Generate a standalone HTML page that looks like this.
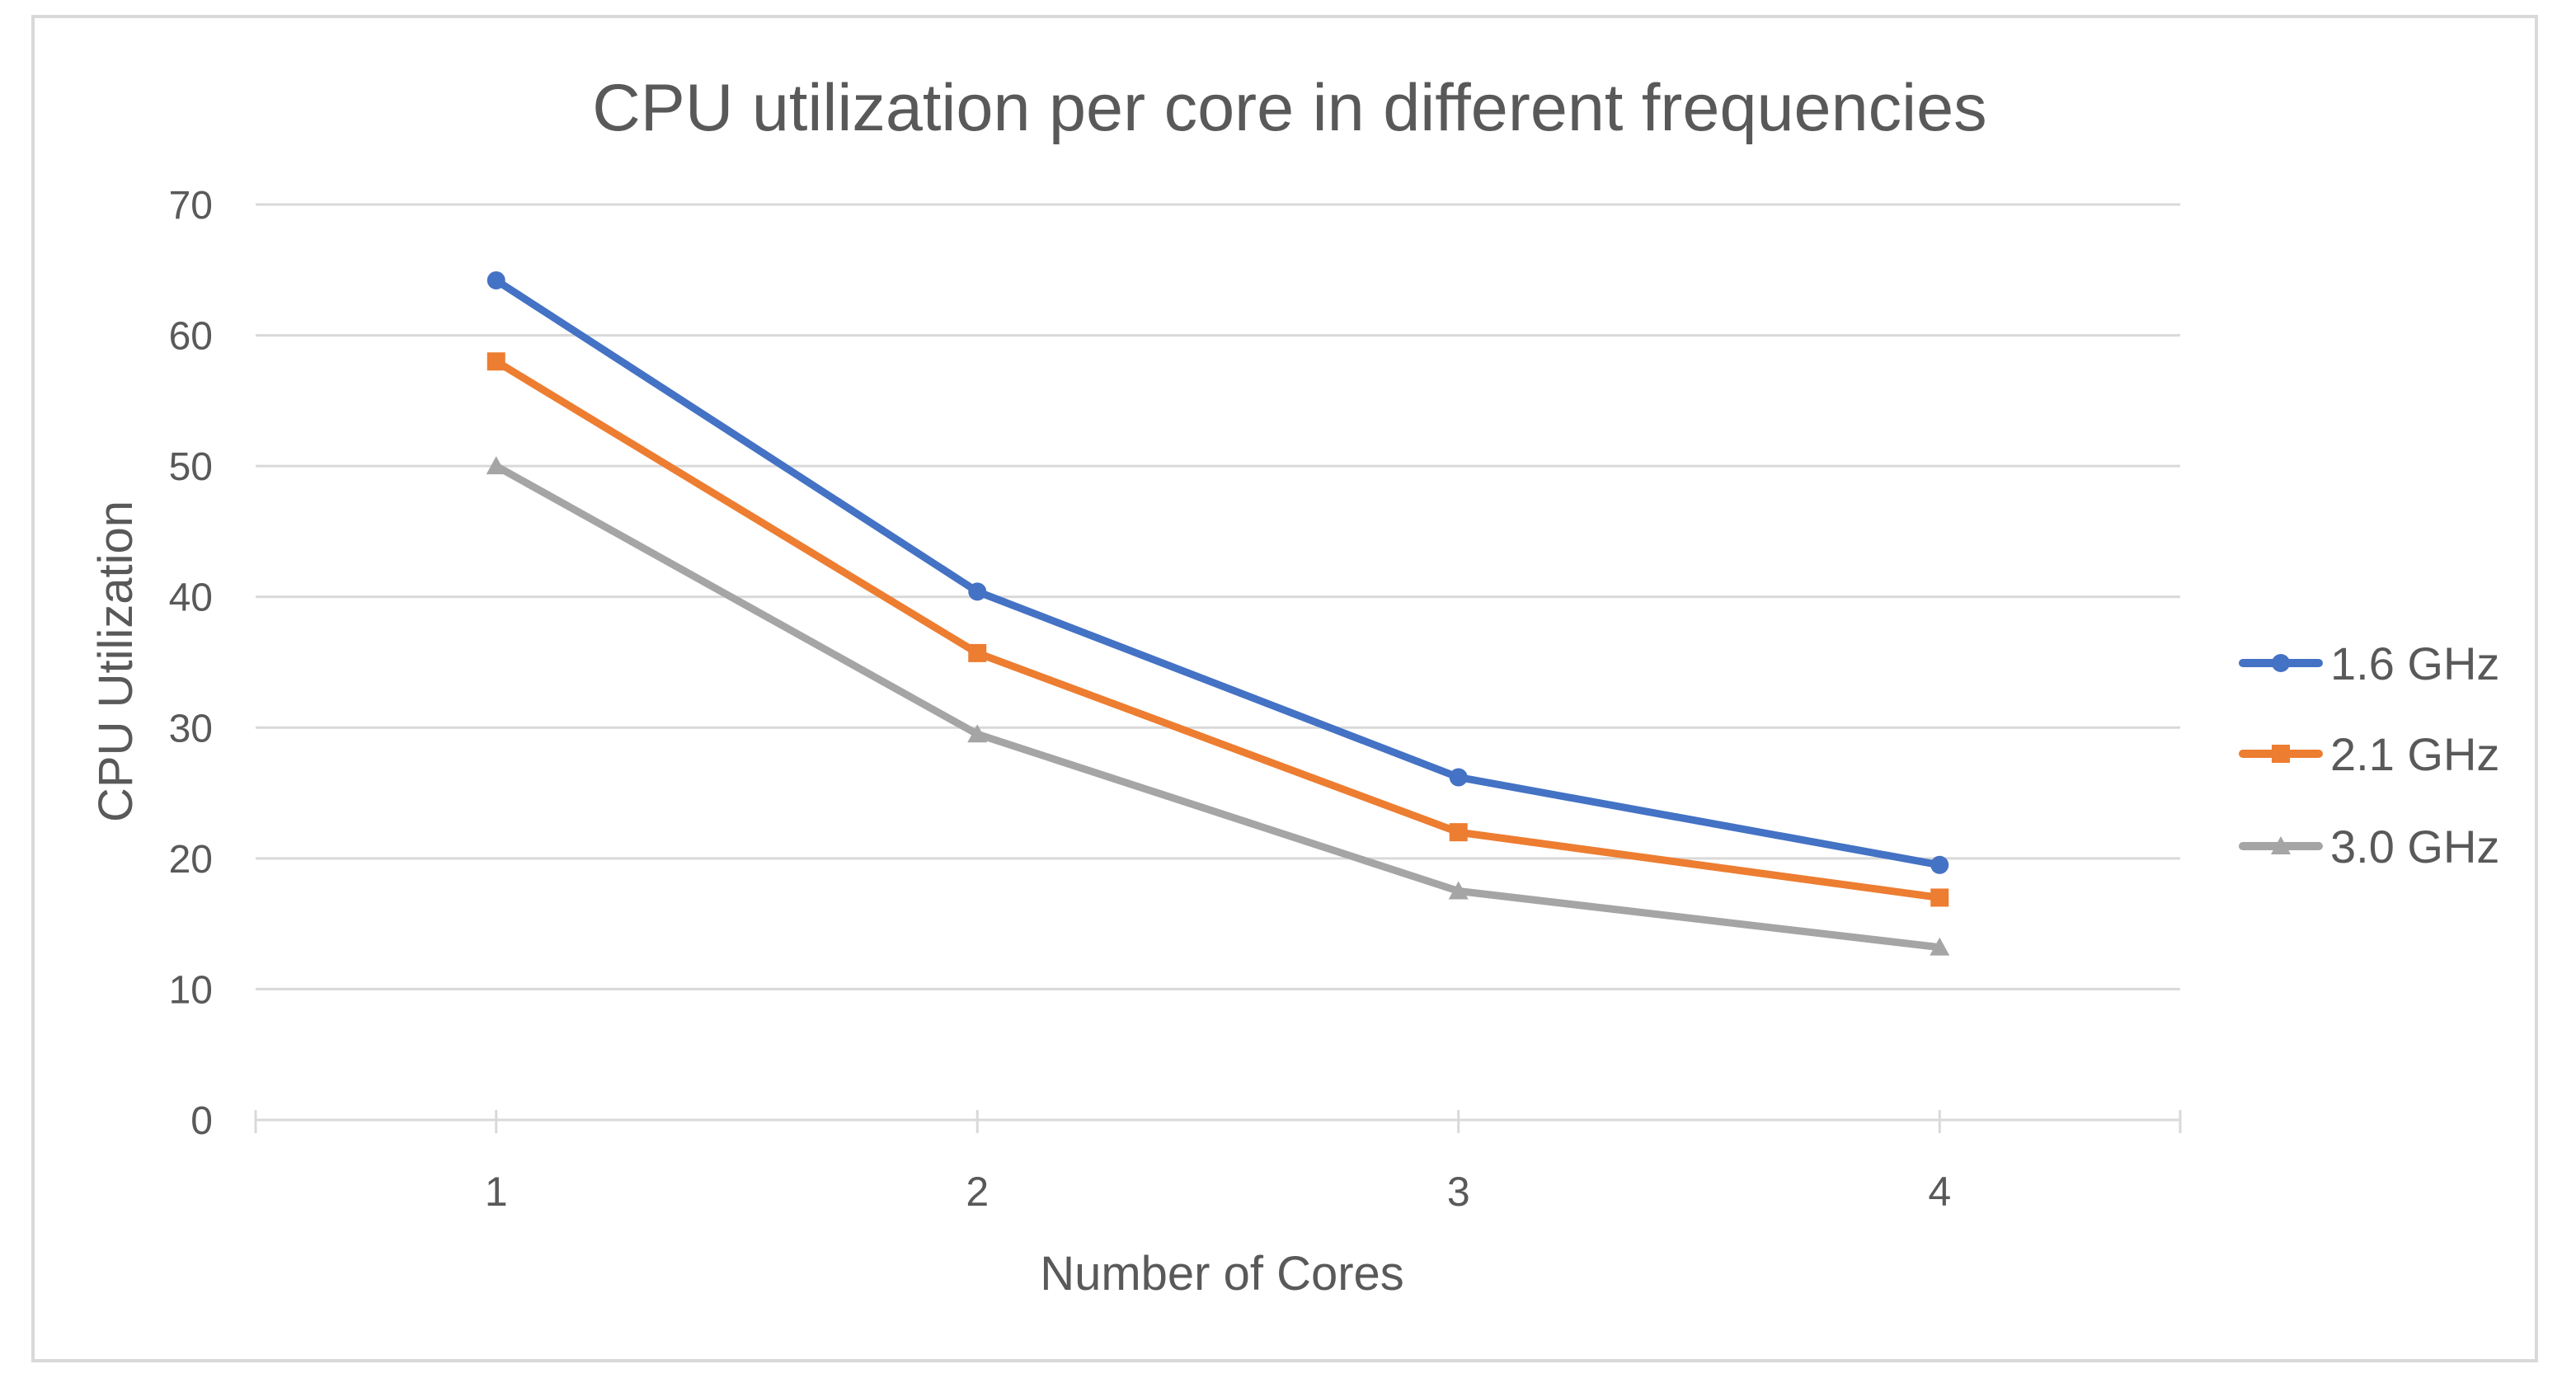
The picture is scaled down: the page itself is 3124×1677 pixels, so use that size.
<!DOCTYPE html>
<html><head><meta charset="utf-8"><style>
html,body{margin:0;padding:0;background:#fff}
svg{display:block}
text{font-family:"Liberation Sans",sans-serif;fill:#595959}
</style></head><body>
<svg id="chart" width="3124" height="1677" viewBox="0 0 3124 1677" xmlns="http://www.w3.org/2000/svg">
<rect x="40" y="20" width="3036" height="1630" fill="#fff" stroke="#d9d9d9" stroke-width="4"/>
<text x="1564" y="158" font-size="81" text-anchor="middle">CPU utilization per core in different frequencies</text>
<g id="grid"></g>
<g id="series"></g>
<text x="0" y="0" font-size="58" text-anchor="middle" transform="translate(160,802) rotate(-90)">CPU Utilization</text>
<text x="1482" y="1564" font-size="58" text-anchor="middle">Number of Cores</text>
<g id="legend"></g>
</svg>
<script>
const categories = ["1","2","3","4"];
const yTicks = [0,10,20,30,40,50,60,70];
const seriesNames = ["1.6 GHz","2.1 GHz","3.0 GHz"];
const s16 = [64.2,40.4,26.2,19.5];
const s21 = [58.0,35.7,22.0,17.0];
const s30 = [50.0,29.5,17.5,13.2];
const colors = ["#4472C4","#ED7D31","#A5A5A5"];
const markers = ["circle","square","triangle"];

const NS="http://www.w3.org/2000/svg";
const L=310,R=2644,T=248,B=1358,YMAX=70;
const band=(R-L)/categories.length;
const xs=i=>L+band*(i+0.5);
const ys=v=>B-(v/YMAX)*(B-T);
function mk(tag,attrs,parent){const e=document.createElementNS(NS,tag);for(const k in attrs)e.setAttribute(k,attrs[k]);parent.appendChild(e);return e;}
const grid=document.getElementById('grid');
yTicks.forEach(t=>{
  const y=ys(t);
  const ln=mk('line',{x1:L,x2:R,y1:y,y2:y,stroke:'#d9d9d9','stroke-width':3},grid);
  
  
  const tx=mk('text',{x:258,y:y+17,'font-size':48,'text-anchor':'end'},grid);
  tx.textContent=t;
  
  
});
const tickXs=[L,R];
categories.forEach((c,i)=>{
  tickXs.push(xs(i));
  const tx=mk('text',{x:xs(i),y:1462,'font-size':50,'text-anchor':'middle'},grid);
  tx.textContent=c;
  
  
});
tickXs.forEach(x=>{
  const tk=mk('line',{x1:x,x2:x,y1:B-12,y2:B+16,stroke:'#d9d9d9','stroke-width':3},grid);
  
  
});
function marker(type,x,y,color,parent){
  let m;
  if(type==='circle') m=mk('circle',{cx:x,cy:y,r:11,fill:color},parent);
  else if(type==='square') m=mk('rect',{x:x-11,y:y-11,width:22,height:22,fill:color},parent);
  else m=mk('polygon',{points:`${x},${y-12} ${x+12},${y+10} ${x-12},${y+10}`,fill:color},parent);
  return m;
}
const seriesG=document.getElementById('series');
const data=[s16,s21,s30];
data.slice().reverse().forEach((vals,ri)=>{
  const k=data.length-1-ri;
  const g=mk('g',{},seriesG);
  
  
  const pts=vals.map((v,i)=>xs(i)+','+ys(v)).join(' ');
  const pl=mk('polyline',{points:pts,fill:'none',stroke:colors[k],'stroke-width':9,'stroke-linejoin':'round','stroke-linecap':'round'},g);
  
  
  vals.forEach((v,i)=>{
    const m=marker(markers[k],xs(i),ys(v),colors[k],g);
    
    
  });
});
const lg=document.getElementById('legend');
const rowsY=[804,914,1026];
seriesNames.forEach((n,k)=>{
  const g=mk('g',{},lg);
  
  
  const y=rowsY[k];
  mk('line',{x1:2720,x2:2812,y1:y,y2:y,stroke:colors[k],'stroke-width':10,'stroke-linecap':'round'},g);
  marker(markers[k],2766,y,colors[k],g);
  const t=mk('text',{x:2826,y:y+20,'font-size':56},g);
  t.textContent=n;
});
</script>
</body></html>
